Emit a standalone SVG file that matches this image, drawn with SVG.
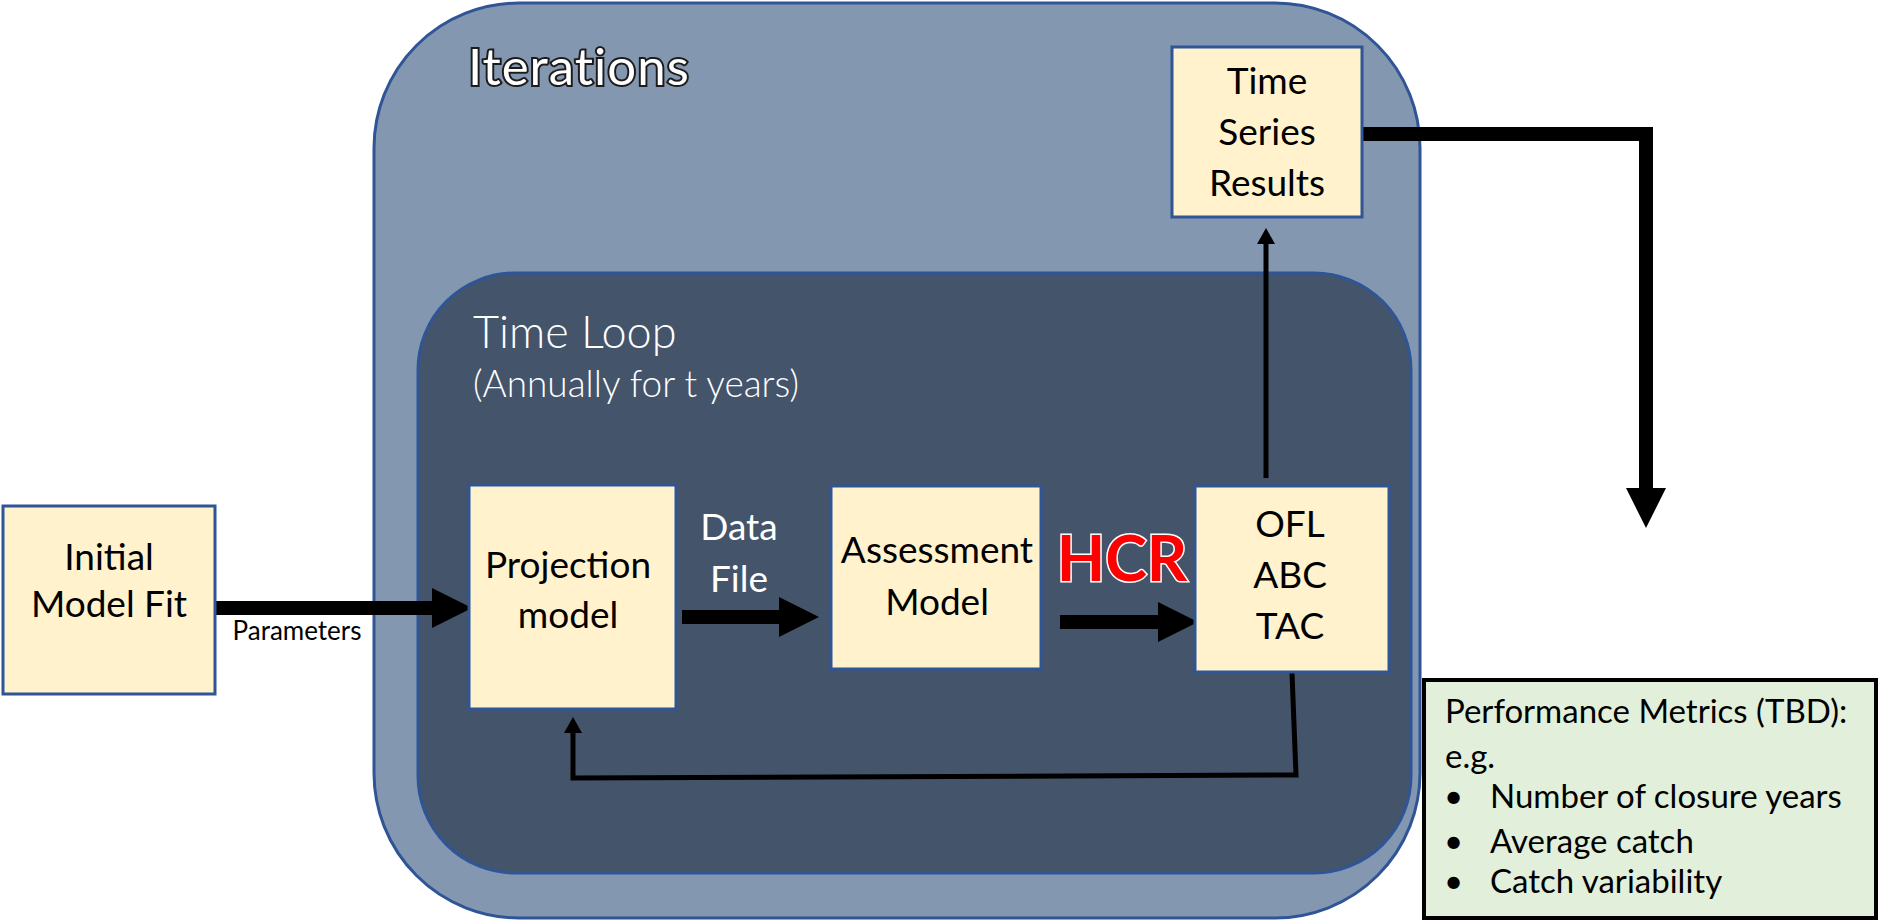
<svg xmlns="http://www.w3.org/2000/svg" width="1879" height="922" viewBox="0 0 1879 922">
<style>
.box{fill:#FFF2CC;stroke:#2F5597;stroke-width:3}
.t{font-family:Lato,"Liberation Sans",sans-serif;fill:#000;text-anchor:middle}
.bt{font-size:37px}
.w{fill:#fff}
.thick{stroke:#000;stroke-width:14;fill:none}
.thin{stroke:#000;stroke-width:5;fill:none}
</style>
<defs>
<marker id="bigHead" viewBox="0 0 40 40" refX="0" refY="20" markerWidth="40" markerHeight="40" markerUnits="userSpaceOnUse" orient="auto">
<path d="M0,0 L40,20 L0,40 z" fill="#000"/>
</marker>
<marker id="smallHead" viewBox="0 0 16 18" refX="0" refY="9" markerWidth="16" markerHeight="18" markerUnits="userSpaceOnUse" orient="auto">
<path d="M0,0 L16,9 L0,18 z" fill="#000"/>
</marker>
</defs>
<rect width="1879" height="922" fill="#fff"/>

<g id="iterations">
<rect x="374" y="3" width="1046" height="915" rx="145" ry="145" fill="#8497B0" stroke="#2F5597" stroke-width="3"/>
<text x="468" y="85" font-family="Lato,'Liberation Sans',sans-serif" font-size="51" fill="#fff" stroke="#1c1c1c" stroke-width="4" paint-order="stroke" letter-spacing="1">Iterations</text>
</g>

<g id="time-loop">
<rect x="418" y="273" width="993" height="600" rx="97" ry="97" fill="#44546A" stroke="#2F5597" stroke-width="3"/>
<text x="473" y="348" font-family="Lato,'Liberation Sans',sans-serif" font-size="45" font-weight="300" fill="#fff">Time Loop</text>
<text x="473" y="397" font-family="Lato,'Liberation Sans',sans-serif" font-size="37" font-weight="300" fill="#fff">(Annually for t years)</text>
</g>

<g id="connectors">
<line x1="215" y1="608" x2="432" y2="608" class="thick" stroke-width="13" marker-end="url(#bigHead)"/>
<line x1="682" y1="617" x2="779" y2="617" class="thick" marker-end="url(#bigHead)"/>
<line x1="1060" y1="622" x2="1158" y2="622" class="thick" stroke-width="13" marker-end="url(#bigHead)"/>
<polyline points="1362,134 1646,134 1646,488" class="thick" stroke-width="13" stroke-linejoin="miter" marker-end="url(#bigHead)"/>
<line x1="1266" y1="478" x2="1266" y2="244" class="thin" marker-end="url(#smallHead)"/>
<polyline points="1292,673 1296,775 573,778 573,733" class="thin" marker-end="url(#smallHead)"/>
</g>

<g id="initial-model-fit">
<rect x="3" y="506" width="212" height="188" class="box"/>
<text class="t bt" x="109" y="570">Initial</text>
<text class="t bt" x="109" y="617">Model Fit</text>
</g>

<g id="parameters-label">
<text class="t" x="297" y="640" font-size="26">Parameters</text>
</g>

<g id="projection-model">
<rect x="469" y="485" width="207" height="224" class="box"/>
<text class="t bt" x="568" y="578">Projection</text>
<text class="t bt" x="568" y="628">model</text>
</g>

<g id="data-file-label">
<text class="t bt w" x="739" y="540">Data</text>
<text class="t bt w" x="739" y="592">File</text>
</g>

<g id="assessment-model">
<rect x="831" y="486" width="210" height="183" class="box"/>
<text class="t bt" x="937" y="563">Assessment</text>
<text class="t bt" x="937" y="615">Model</text>
</g>

<g id="hcr-label">
<text x="1122" y="581" font-family="Lato,'Liberation Sans',sans-serif" font-size="63" font-weight="bold" fill="#FF0000" stroke="#fff" stroke-width="3" paint-order="stroke" text-anchor="middle">HCR</text>
</g>

<g id="ofl-abc-tac">
<rect x="1195" y="486" width="194" height="186" class="box"/>
<text class="t bt" x="1290" y="537">OFL</text>
<text class="t bt" x="1290" y="588">ABC</text>
<text class="t bt" x="1290" y="639">TAC</text>
</g>

<g id="time-series-results">
<rect x="1172" y="47" width="190" height="170" class="box"/>
<text class="t bt" x="1267" y="94">Time</text>
<text class="t bt" x="1267" y="145">Series</text>
<text class="t bt" x="1267" y="196">Results</text>
</g>

<g id="performance-metrics">
<rect x="1424" y="680" width="452" height="238" fill="#E2EFDA" stroke="#000" stroke-width="4"/>
<g font-family="Lato,'Liberation Sans',sans-serif" font-size="33" fill="#000">
<text x="1445" y="723">Performance Metrics (TBD):</text>
<text x="1445" y="768">e.g.</text>
<text x="1444" y="808">•</text>
<text x="1490" y="808">Number of closure years</text>
<text x="1444" y="853">•</text>
<text x="1490" y="853">Average catch</text>
<text x="1444" y="893">•</text>
<text x="1490" y="893">Catch variability</text>
</g>
</g>
</svg>
